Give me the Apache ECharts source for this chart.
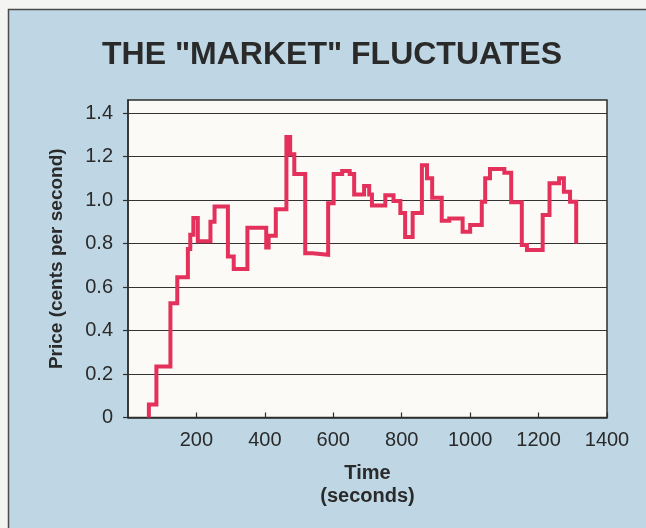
<!DOCTYPE html>
<html>
<head>
<meta charset="utf-8">
<title>THE "MARKET" FLUCTUATES</title>
<script src="https://cdn.jsdelivr.net/npm/echarts@6/dist/echarts.min.js"></script>
<style>
  html, body { margin: 0; padding: 0; background: #f4f4f2; }
  #chart { width: 646px; height: 528px; }
</style>
</head>
<body>
<div id="chart"></div>
<script>
// Step series: each entry is the time (s) at which the price switches to the new level.
const times  = [61, 61, 83, 124, 144, 175, 182, 191, 204, 241, 253, 292, 309, 349, 404, 411, 432,
                463, 474, 486, 518, 539, 585, 601, 626, 648, 661, 690, 705, 713, 752, 776, 796,
                810, 832, 859, 874, 889, 917, 939, 978, 1000, 1034, 1044, 1058, 1100, 1120, 1151,
                1166, 1212, 1232, 1260, 1274, 1292, 1310];
const prices = [0, 0.06, 0.235, 0.525, 0.645, 0.775, 0.84, 0.917, 0.81, 0.9, 0.97, 0.74, 0.683,
                0.872, 0.782, 0.836, 0.958, 1.29, 1.21, 1.12, 0.755, 0.748, 0.985, 1.12, 1.133,
                1.12, 1.025, 1.065, 1.025, 0.975, 1.022, 0.995, 0.94, 0.83, 0.94, 1.16, 1.1, 1.01,
                0.905, 0.915, 0.854, 0.885, 0.992, 1.1, 1.143, 1.125, 0.99, 0.793, 0.77, 0.931,
                1.077, 1.1, 1.038, 0.992, 0.8];

// Axis tick values
const priceTicks = [0, 0.2, 0.4, 0.6, 0.8, 1.0, 1.2, 1.4];
const timeTicks  = [200, 400, 600, 800, 1000, 1200, 1400];

const FONT = '"Liberation Sans", Arial, Helvetica, sans-serif';
const INK = '#2a2a2a';

const chart = echarts.init(document.getElementById('chart'), null, { renderer: 'canvas' });

chart.setOption({
  animation: false,
  backgroundColor: '#bfd7e4',
  graphic: [
    // paper margin outside the panel
    { type: 'rect', shape: { x: 0, y: 0, width: 646, height: 9 }, style: { fill: '#f4f4f2' }, silent: true },
    { type: 'rect', shape: { x: 0, y: 0, width: 8, height: 528 }, style: { fill: '#f4f4f2' }, silent: true },
    // panel edge
    { type: 'polyline', shape: { points: [[8.5, 528], [8.5, 9.5], [646, 9.5]] },
      style: { stroke: '#4a4a4a', lineWidth: 1.5, fill: null }, silent: true },
    // heading
    { type: 'text', x: 332, y: 55,
      style: { text: 'THE "MARKET" FLUCTUATES', fill: INK, font: 'bold 32px ' + FONT,
               textAlign: 'center', textVerticalAlign: 'middle' }, silent: true }
  ],
  grid: {
    left: 128, right: 39, top: 100, bottom: 110.5,
    show: true, backgroundColor: '#fbfaf6', borderColor: '#2e2e2e', borderWidth: 1.5
  },
  xAxis: {
    type: 'value', min: 0, max: 1400, interval: 200,
    name: 'Time\n(seconds)', nameLocation: 'middle', nameGap: 44,
    nameTextStyle: { fontFamily: FONT, fontWeight: 'bold', fontSize: 20, color: INK, lineHeight: 23 },
    axisLine: { show: true, lineStyle: { color: '#2e2e2e', width: 1.5 } },
    axisTick: { show: true, inside: true, length: 5, lineStyle: { color: '#2e2e2e', width: 1.2 },
                customValues: timeTicks },
    axisLabel: { customValues: timeTicks, margin: 13, fontFamily: FONT, fontSize: 20, color: INK,
                 formatter: v => String(v) },
    splitLine: { show: false }
  },
  yAxis: {
    type: 'value', min: 0, max: 1.46, interval: 0.2,
    name: 'Price (cents per second)', nameLocation: 'middle', nameGap: 62,
    nameTextStyle: { fontFamily: FONT, fontWeight: 'bold', fontSize: 19, color: INK },
    axisLine: { show: true, lineStyle: { color: '#2e2e2e', width: 1.5 } },
    axisTick: { show: true, inside: false, length: 5, lineStyle: { color: '#2e2e2e', width: 1.2 },
                customValues: priceTicks },
    axisLabel: { customValues: priceTicks, margin: 15, fontFamily: FONT, fontSize: 20, color: INK,
                 formatter: v => (v === 0 ? '0' : v.toFixed(1)) },
    splitLine: { show: true, lineStyle: { color: '#333333', width: 1.2 } }
  },
  series: [{
    type: 'line',
    step: 'end',
    showSymbol: false,
    silent: true,
    data: times.map((t, i) => [t, prices[i]]),
    lineStyle: { color: '#e4315b', width: 4, join: 'miter' }
  }]
});
</script>
</body>
</html>
